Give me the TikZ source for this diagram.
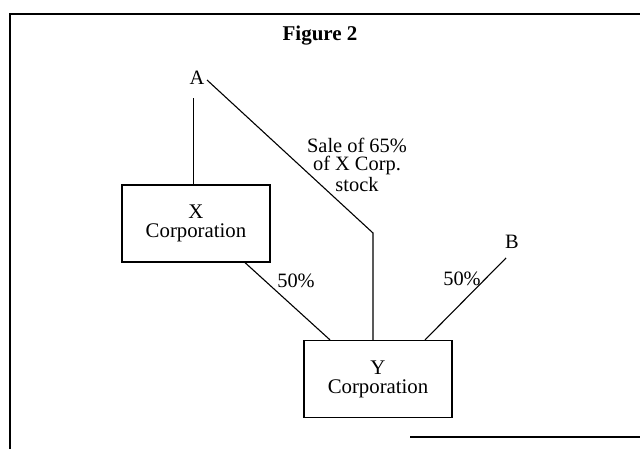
\documentclass[tikz,border=0pt]{standalone}
\usepackage{fontspec}
\setmainfont{Liberation Serif}
\begin{document}
\begin{tikzpicture}[x=0.5pt,y=-0.5pt,
  corp/.style={draw,line width=0.6pt,minimum width=74pt,minimum height=38.5pt,align=center,inner sep=0pt,font=\fontsize{10.4}{9.6}\selectfont},
  lbl/.style={inner sep=0pt,font=\fontsize{10.2}{9}\selectfont,align=center},
  conn/.style={line width=0.55pt}]
\useasboundingbox (0,0) rectangle (640,449);
\draw[line width=0.8pt] (10,449) -- (10,14) -- (640,14);
\draw[line width=0.8pt] (410,437) -- (640,437);
\node[lbl,font=\fontsize{10.5}{11}\bfseries] (title) at (320,36) {Figure 2};
\node[corp] (X) at (196,223.5) {X\\Corporation};
\node[corp] (Y) at (378,379) {Y\\Corporation};
\node[lbl] (A) at (197,78) {A};
\node[lbl] (B) at (512,242) {B};
\node[lbl] (sale) at (357,165) {Sale of 65\%\\of X Corp.\\stock};
\node[lbl] (p1) at (296,281) {50\%};
\node[lbl] (p2) at (462,279) {50\%};
\coordinate (a1) at (193.5,98);
\coordinate (a2) at (207,80);
\coordinate (bend) at (373,233);
\coordinate (b1) at (506,258);
\draw[conn] (a1) -- (a1 |- X.north);
\draw[conn] (a2) -- (bend) -- (bend |- Y.north);
\draw[conn] ([xshift=24.5pt]X.south) -- ([xshift=-24pt]Y.north);
\draw[conn] (b1) -- ([xshift=23.5pt]Y.north);
\end{tikzpicture}
\end{document}
